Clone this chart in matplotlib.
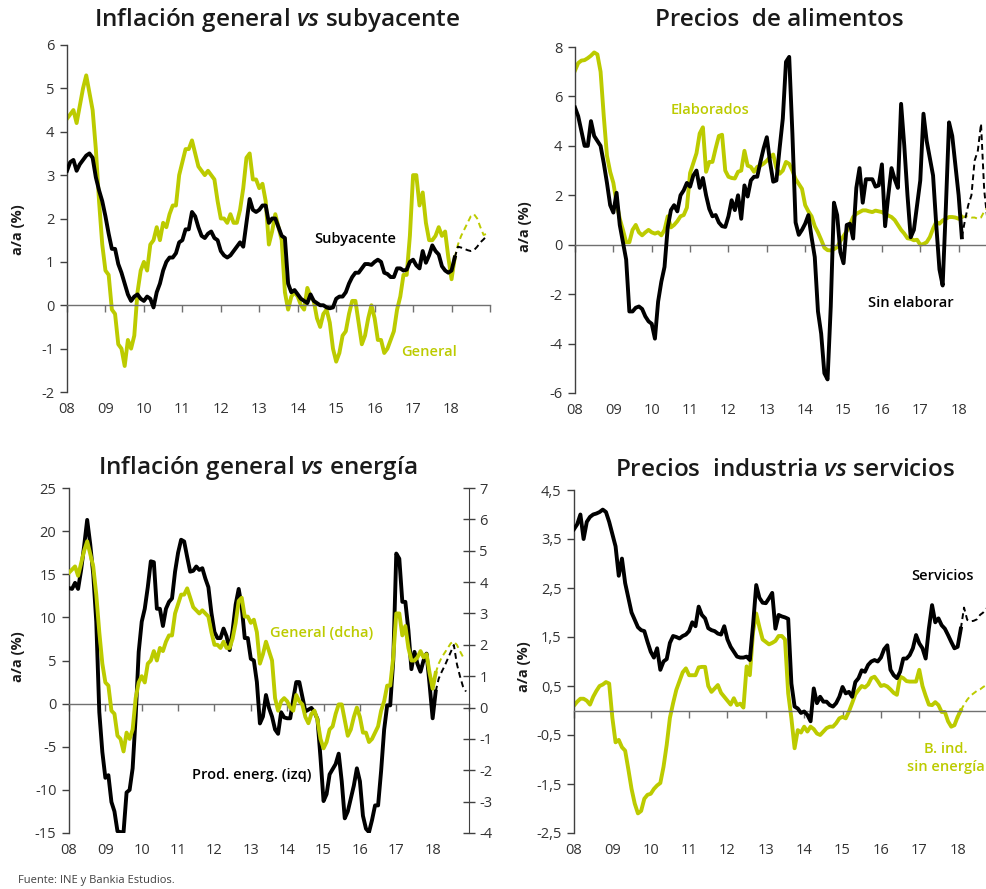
import numpy as np
import matplotlib
matplotlib.use("Agg")
import matplotlib.pyplot as plt

plt.rcParams['font.family'] = ['Open Sans', 'DejaVu Sans']
plt.rcParams['axes.unicode_minus'] = False
plt.rcParams['mathtext.fontset'] = 'custom'
plt.rcParams['mathtext.it'] = 'Open Sans:italic:semibold'
plt.rcParams['mathtext.rm'] = 'Open Sans'

# ---------------- DATA (monthly, Jan-2008 .. Feb-2018, then forecast Mar..Dec 2018) -------------
year_labels = ['08', '09', '10', '11', '12', '13', '14', '15', '16', '17', '18']

general = [4.3, 4.4, 4.5, 4.2, 4.6, 5.0, 5.3, 4.9, 4.5, 3.6, 2.4, 1.4,
           0.8, 0.7, -0.1, -0.2, -0.9, -1.0, -1.4, -0.8, -1.0, -0.7, 0.3, 0.8,
           1.0, 0.8, 1.4, 1.5, 1.8, 1.5, 1.9, 1.8, 2.1, 2.3, 2.3, 3.0,
           3.3, 3.6, 3.6, 3.8, 3.5, 3.2, 3.1, 3.0, 3.1, 3.0, 2.9, 2.4,
           2.0, 2.0, 1.9, 2.1, 1.9, 1.9, 2.2, 2.7, 3.4, 3.5, 2.9, 2.9,
           2.7, 2.8, 2.4, 1.4, 1.7, 2.1, 1.8, 1.5, 0.3, -0.1, 0.2, 0.3,
           0.2, 0.0, -0.1, 0.4, 0.2, 0.1, -0.3, -0.5, -0.2, -0.1, -0.4, -1.0,
           -1.3, -1.1, -0.7, -0.6, -0.2, 0.1, 0.1, -0.4, -0.9, -0.7, -0.3, 0.0,
           -0.3, -0.8, -0.8, -1.1, -1.0, -0.8, -0.6, -0.1, 0.2, 0.7, 0.7, 1.6,
           3.0, 3.0, 2.3, 2.6, 1.9, 1.5, 1.5, 1.6, 1.8, 1.6, 1.7, 1.1,
           0.6, 1.1]
general_fc = [1.4, 1.6, 1.75, 1.9, 2.05, 2.1, 2.0, 1.8, 1.62, 1.65]

subyacente = [3.1, 3.3, 3.35, 3.1, 3.25, 3.35, 3.45, 3.5, 3.4, 2.95, 2.65, 2.4,
              2.05, 1.65, 1.3, 1.3, 0.95, 0.75, 0.5, 0.25, 0.1, 0.2, 0.25, 0.15,
              0.1, 0.2, 0.15, -0.05, 0.3, 0.5, 0.8, 1.0, 1.1, 1.1, 1.2, 1.45,
              1.5, 1.75, 1.75, 2.15, 2.05, 1.8, 1.6, 1.55, 1.65, 1.7, 1.55, 1.5,
              1.25, 1.15, 1.1, 1.15, 1.25, 1.35, 1.45, 1.35, 1.9, 2.45, 2.2, 2.15,
              2.2, 2.3, 2.3, 1.9, 2.0, 2.0, 1.8, 1.6, 1.55, 0.5, 0.3, 0.35,
              0.25, 0.15, 0.1, 0.05, 0.25, 0.1, 0.05, 0.0, 0.0, -0.05, -0.07, -0.05,
              0.15, 0.2, 0.2, 0.3, 0.5, 0.65, 0.75, 0.75, 0.85, 0.95, 0.95, 0.93,
              1.0, 1.05, 1.0, 0.75, 0.72, 0.65, 0.65, 0.85, 0.85, 0.8, 0.82, 1.0,
              1.05, 0.92, 0.85, 1.25, 0.98, 1.15, 1.38, 1.25, 1.17, 0.9, 0.8, 0.75,
              0.8, 1.1]
subyacente_fc = [1.35, 1.33, 1.3, 1.27, 1.25, 1.27, 1.35, 1.45, 1.52, 1.6]

elaborados = [7.05, 7.35, 7.45, 7.47, 7.55, 7.65, 7.78, 7.7, 7.0, 5.2, 3.6, 2.95,
              2.5, 1.7, 1.05, 0.6, 0.1, 0.1, 0.6, 0.8, 0.5, 0.38, 0.5, 0.6,
              0.5, 0.45, 0.5, 0.38, 0.6, 1.15, 0.7, 0.8, 0.95, 1.15, 1.2, 1.5,
              2.9, 3.3, 3.7, 4.5, 4.75, 2.95, 3.35, 3.35, 3.9, 4.4, 4.45, 3.0,
              2.75, 2.7, 2.68, 2.95, 3.0, 3.8, 3.2, 3.15, 2.95, 3.15, 3.2, 3.28,
              3.4, 3.55, 3.65, 3.1, 2.87, 3.0, 3.35, 3.27, 3.0, 2.66, 2.46, 2.26,
              1.6, 1.35, 1.15, 0.75, 0.5, 0.2, -0.12, -0.22, -0.23, -0.18, -0.1, 0.15,
              0.35, 0.55, 0.82, 1.12, 1.25, 1.32, 1.39, 1.39, 1.35, 1.32, 1.38, 1.35,
              1.32, 1.25, 1.18, 1.12, 1.0, 0.8, 0.6, 0.45, 0.26, 0.24, 0.18, 0.2,
              0.0, 0.03, 0.1, 0.31, 0.65, 0.92, 0.85, 0.98, 1.05, 1.12, 1.12, 1.1,
              1.05, 1.12]
elaborados_fc = [1.15, 1.15, 1.1, 1.1, 1.05, 1.1, 1.35, 1.5, 1.5, 1.5]

sin_elaborar = [5.55, 5.2, 4.6, 4.0, 4.0, 5.0, 4.4, 4.2, 4.0, 3.3, 2.5, 1.6,
                1.3, 2.1, 0.8, 0.1, -0.6, -2.7, -2.7, -2.55, -2.5, -2.6, -2.9, -3.1,
                -3.2, -3.8, -2.3, -1.5, -0.9, 0.7, 1.4, 1.6, 1.35, 2.0, 2.2, 2.5,
                2.35, 2.8, 3.0, 2.3, 2.7, 2.0, 1.45, 1.15, 1.2, 0.9, 0.75, 0.72,
                1.15, 1.8, 1.4, 2.0, 1.05, 2.4, 1.95, 2.6, 2.75, 2.75, 3.35, 3.9,
                4.35, 3.35, 2.55, 2.6, 3.9, 5.1, 7.4, 7.6, 4.5, 0.9, 0.4, 0.6,
                0.85, 1.2, 0.3, -0.5, -2.7, -3.6, -5.2, -5.45, -2.5, 1.7, 1.2, -0.3,
                -0.75, 0.8, 0.85, 0.25, 2.3, 3.1, 1.7, 2.65, 2.65, 2.65, 2.35, 2.4,
                3.25, 0.75, 2.0, 3.1, 2.65, 2.3, 5.7, 4.0, 2.0, 0.3, 0.6, 1.6,
                2.6, 5.3, 4.2, 3.5, 2.8, 0.8, -1.0, -1.65, 1.5, 4.95, 4.4, 3.2,
                2.0, 0.3]
sin_elaborar_fc = [1.0, 1.6, 2.0, 3.4, 3.8, 4.9, 2.2, 1.0, 1.2, 1.4]

energia = [13.4, 13.3, 14.0, 13.3, 15.5, 18.3, 21.3, 18.5, 15.0, 9.5, -1.0, -5.6,
           -8.6, -8.3, -11.4, -12.5, -14.8, -14.9, -14.9, -10.3, -10.0, -7.5, -1.5, 6.0,
           9.5, 11.0, 13.5, 16.5, 16.4, 11.0, 11.0, 9.0, 11.0, 11.8, 12.2, 15.3,
           17.5, 19.0, 18.8, 17.0, 15.3, 15.4, 15.9, 15.5, 15.7, 14.5, 13.5, 10.5,
           8.3, 7.6, 7.6, 8.7, 7.8, 6.2, 8.5, 11.5, 13.3, 11.2, 7.6, 7.6,
           5.2, 5.0, 2.5, -2.3, -1.5, 1.0, -0.5, -1.5, -3.0, -3.5, -1.0, -1.6,
           -1.7, -1.7, 0.5, 2.5, 2.5, 0.8, -0.9, -0.7, -0.5, -1.0, -1.8, -6.3,
           -11.3, -10.5, -8.2, -7.6, -7.0, -5.8, -9.0, -13.3, -12.5, -11.0, -9.5, -7.5,
           -9.0, -13.0, -14.5, -14.9, -13.5, -11.8, -11.8, -7.8, -3.0, -0.2, -0.2, 5.0,
           17.4, 16.8, 11.8, 11.8, 8.5, 4.0, 6.0, 4.6, 3.7, 5.0, 5.8, 2.2,
           -1.7, 1.4]
energia_fc = [2.9, 3.7, 4.4, 5.2, 6.0, 6.8, 4.6, 3.2, 2.0, 1.4]

servicios = [3.7, 3.8, 4.0, 3.5, 3.85, 3.95, 4.0, 4.02, 4.05, 4.1, 4.05, 3.85,
             3.6, 3.35, 2.75, 3.1, 2.6, 2.3, 2.0, 1.85, 1.7, 1.64, 1.62, 1.4,
             1.2, 1.08, 1.27, 0.83, 1.0, 1.05, 1.38, 1.52, 1.5, 1.47, 1.52, 1.55,
             1.62, 1.8, 1.72, 2.12, 1.95, 1.88, 1.68, 1.64, 1.62, 1.57, 1.55, 1.72,
             1.45, 1.3, 1.2, 1.1, 1.08, 1.08, 1.1, 1.03, 1.74, 2.56, 2.3, 2.2,
             2.19, 2.29, 2.4, 1.67, 1.95, 1.92, 1.9, 1.87, 0.55, 0.08, 0.04, -0.05,
             -0.02, -0.09, -0.22, 0.45, 0.15, 0.28, 0.18, 0.18, 0.11, 0.08, 0.15, 0.28,
             0.48, 0.35, 0.38, 0.28, 0.58, 0.66, 0.82, 0.79, 0.93, 1.0, 1.03, 1.0,
             1.08, 1.25, 1.33, 0.83, 0.72, 0.66, 0.79, 1.06, 1.06, 1.13, 1.27, 1.54,
             1.37, 1.27, 1.06, 1.67, 2.15, 1.8, 1.88, 1.74, 1.67, 1.54, 1.4, 1.27,
             1.3, 1.67]
servicios_fc = [2.1, 1.85, 1.82, 1.83, 1.86, 1.95, 2.0, 2.08, 2.12, 2.15]

bind_sin_energia = [0.1, 0.18, 0.24, 0.24, 0.2, 0.12, 0.28, 0.4, 0.5, 0.53, 0.58, 0.55,
                    -0.15, -0.65, -0.6, -0.75, -0.82, -1.2, -1.6, -1.9, -2.1, -2.05, -1.8, -1.72,
                    -1.7, -1.6, -1.53, -1.48, -1.15, -0.7, -0.15, 0.15, 0.42, 0.6, 0.78, 0.86,
                    0.72, 0.72, 0.72, 0.88, 0.89, 0.89, 0.5, 0.38, 0.45, 0.52, 0.36, 0.28,
                    0.2, 0.12, 0.25, 0.11, 0.14, 0.06, 0.9, 0.72, 1.6, 1.98, 1.7, 1.45,
                    1.4, 1.35, 1.38, 1.42, 1.52, 1.52, 1.45, 0.35, -0.16, -0.77, -0.4, -0.45,
                    -0.33, -0.43, -0.33, -0.38, -0.47, -0.5, -0.43, -0.36, -0.33, -0.33, -0.26, -0.16,
                    -0.13, -0.16, -0.02, 0.15, 0.33, 0.42, 0.5, 0.47, 0.53, 0.66, 0.69, 0.6,
                    0.5, 0.52, 0.49, 0.43, 0.36, 0.32, 0.69, 0.66, 0.6, 0.59, 0.59, 0.59,
                    0.83, 0.5, 0.3, 0.12, 0.11, 0.17, 0.11, -0.03, -0.03, -0.22, -0.33, -0.3,
                    -0.13, 0.0]
bind_fc = [0.12, 0.22, 0.3, 0.35, 0.4, 0.43, 0.48, 0.52, 0.56, 0.6]

# ---------------- STYLE -------------
GREEN = '#BCCB00'
BLACK = '#000000'
TXT = '#1a1a1a'
TICK = '#333333'
LW = 2.8
LW_FC = 1.4

W, H = 987, 889
fig = plt.figure(figsize=(W / 100, H / 100), dpi=100)


def px_axes(x0, x1, ytop, ybot):
    return fig.add_axes([x0 / W, 1 - ybot / H, (x1 - x0) / W, (ybot - ytop) / H])


def plot_series(ax, actual, fc, color, z):
    n = len(actual)
    x = np.arange(n)
    ax.plot(x, actual, color=color, lw=LW, zorder=z, solid_joinstyle='round')
    xf = np.arange(n - 1, n + len(fc))
    ax.plot(xf, [actual[-1]] + list(fc), color=color, lw=LW_FC, ls=(0, (3, 2)), zorder=z)


def style_axes(ax, ylim, yticks, ylabels=None):
    ax.set_xlim(0, 132)
    ax.set_ylim(*ylim)
    ax.set_facecolor('none')
    for s in ['top', 'right']:
        ax.spines[s].set_visible(False)
    ax.spines['left'].set_color('#404040')
    ax.spines['left'].set_linewidth(1.0)
    ax.spines['bottom'].set_position(('data', 0))
    ax.spines['bottom'].set_color('#707070')
    ax.spines['bottom'].set_linewidth(1.0)
    ax.set_xticks(range(0, 133, 12))
    ax.tick_params(axis='x', direction='out', length=5, width=1, color='#707070', labelbottom=False)
    ax.set_yticks(yticks)
    if ylabels is not None:
        ax.set_yticklabels(ylabels)
    ax.tick_params(axis='y', direction='out', length=5, width=1, color='#404040',
                   labelsize=10.5, labelcolor=TICK, pad=4)
    sec = ax.secondary_xaxis('bottom')
    sec.set_xticks(range(0, 121, 12), year_labels)
    sec.tick_params(length=0, pad=7, labelsize=10.5, labelcolor=TICK)
    sec.spines['bottom'].set_visible(False)


def title(x, y, s):
    fig.text(x / W, 1 - y / H, s, ha='center', va='center', fontsize=17.5,
             fontweight='semibold', color=TXT)


def ylab(x, y):
    fig.text(x / W, 1 - y / H, 'a/a (%)', rotation=90, ha='center', va='center',
             fontsize=10.5, fontweight='bold', color=TXT)


# ---------- Top-left ----------
ax1 = px_axes(67, 490, 45, 392)
style_axes(ax1, (-2, 6), range(-2, 7))
plot_series(ax1, general, general_fc, GREEN, 2)
plot_series(ax1, subyacente, subyacente_fc, BLACK, 3)
ax1.text(90, 1.52, 'Subyacente', ha='center', va='center', fontsize=10.5,
         fontweight='semibold', color=BLACK)
ax1.text(113, -1.08, 'General', ha='center', va='center', fontsize=10.5,
         fontweight='semibold', color=GREEN)
title(277, 20, r'Inflación general $\mathit{vs}$ subyacente')
ylab(18, 230)

# ---------- Top-right ----------
ax2 = px_axes(575, 997, 47, 393)
style_axes(ax2, (-6, 8), range(-6, 9, 2))
plot_series(ax2, elaborados, elaborados_fc, GREEN, 2)
plot_series(ax2, sin_elaborar, sin_elaborar_fc, BLACK, 3)
ax2.text(42.2, 5.46, 'Elaborados', ha='center', va='center', fontsize=10.5,
         fontweight='semibold', color=GREEN)
ax2.text(105, -2.37, 'Sin elaborar', ha='center', va='center', fontsize=10.5,
         fontweight='semibold', color=BLACK)
title(779, 20, 'Precios  de alimentos')
ylab(525, 227)

# ---------- Bottom-left ----------
ax3 = px_axes(69, 469, 488, 833)
style_axes(ax3, (-15, 25), range(-15, 26, 5))
plot_series(ax3, energia, energia_fc, BLACK, 3)
ax3r = ax3.twinx()
ax3r.set_ylim(-4, 7)
ax3r.set_yticks(range(-4, 8))
for s in ['top', 'left', 'bottom']:
    ax3r.spines[s].set_visible(False)
ax3r.spines['right'].set_color('#404040')
ax3r.tick_params(axis='y', direction='inout', length=9, width=1, color='#404040',
                 labelsize=10.5, labelcolor=TICK, pad=3)
plot_series(ax3r, general, general_fc, GREEN, 2)
ax3.text(83.5, 8.19, 'General (dcha)', ha='center', va='center', fontsize=10.5,
         fontweight='semibold', color=GREEN, zorder=5)
ax3.text(60.4, -8.28, 'Prod. energ. (izq)', ha='center', va='center', fontsize=10.5,
         fontweight='semibold', color=BLACK, zorder=5)
title(258, 468, r'Inflación general $\mathit{vs}$ energía')
ylab(18, 657)

# ---------- Bottom-right ----------
ax4 = px_axes(574, 996, 490, 833)
yt4 = [-2.5, -1.5, -0.5, 0.5, 1.5, 2.5, 3.5, 4.5]
style_axes(ax4, (-2.5, 4.5), yt4, [('%.1f' % v).replace('.', ',') for v in yt4])
plot_series(ax4, bind_sin_energia, bind_fc, GREEN, 2)
plot_series(ax4, servicios, servicios_fc, BLACK, 3)
ax4.text(115.3, 2.74, 'Servicios', ha='center', va='center', fontsize=10.5,
         fontweight='semibold', color=BLACK)
ax4.text(116.3, -0.97, 'B. ind.\nsin energía', ha='center', va='center', fontsize=10.5,
         fontweight='semibold', color=GREEN, linespacing=1.3)
title(785, 470, r'Precios  industria $\mathit{vs}$ servicios')
ylab(524, 667)

fig.text(18 / W, 1 - 880 / H, 'Fuente: INE y Bankia Estudios.', ha='left', va='center',
         fontsize=8, color='#404040')

fig.savefig('out.png', dpi=100)
